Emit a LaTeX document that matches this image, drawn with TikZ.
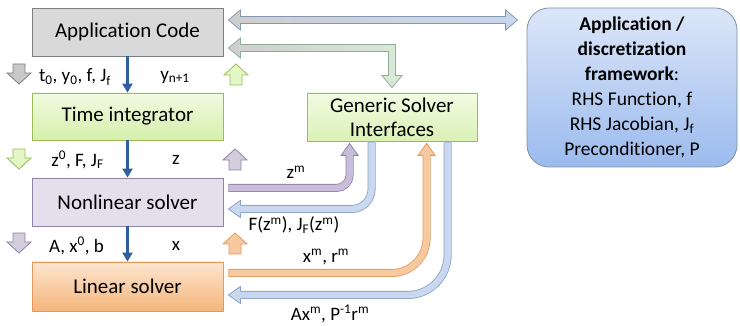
\documentclass[tikz,border=0pt]{standalone}
\usepackage{fontspec}
\setmainfont{Carlito}[Ligatures=NoCommon]
\usetikzlibrary{arrows.meta,calc}
\definecolor{appfill}{HTML}{D9D9D9}
\definecolor{appdraw}{HTML}{7F7F7F}
\definecolor{grtop}{HTML}{F1FBE2}
\definecolor{grbot}{HTML}{D5EFAA}
\definecolor{grdraw}{HTML}{9BBB59}
\definecolor{lvfill}{HTML}{E5DFEC}
\definecolor{lvdraw}{HTML}{8E83A8}
\definecolor{ortop}{HTML}{FDE6CF}
\definecolor{orbot}{HTML}{F4B57C}
\definecolor{ordraw}{HTML}{E39A5C}
\definecolor{fwtop}{HTML}{DCE6F8}
\definecolor{fwbot}{HTML}{9BBBEE}
\definecolor{fwdraw}{HTML}{7F8FA6}
\definecolor{darkblue}{HTML}{2F5F9E}
\definecolor{lvarrow}{HTML}{C8BEDC}
\definecolor{blarrow}{HTML}{C9D8EF}
\definecolor{bldraw}{HTML}{8AA2C8}
\definecolor{orarrow}{HTML}{F7C9A0}
\definecolor{grarrow}{HTML}{E2F6C6}
\definecolor{gyarrow}{HTML}{C8C8C8}
\newcommand\bhead[4]{%
  \begin{scope}[shift={(#1)},rotate=#2]
    \fill[#3] (0,0) -- (-12,8.5) -- (-12,-8.5) -- cycle;
    \draw[#4,line width=0.8pt,line join=miter] (-12,3.6) -- (-12,8.5) -- (0,0) -- (-12,-8.5) -- (-12,-3.6);
  \end{scope}}
\newcommand\bshaft[3]{%
  \draw[line width=8pt,#2] #3;
  \draw[line width=6.4pt,#1,shorten <=0.8pt] #3;}
\newcommand\downarr[3]{%
  \filldraw[fill=#2,draw=#3,line width=0.8pt,line join=miter,shift={(#1)}]
    (-6,0) -- (6,0) -- (6,9) -- (12,9) -- (0,20) -- (-12,9) -- (-6,9) -- cycle;}
\newcommand\uparr[3]{%
  \filldraw[fill=#2,draw=#3,line width=0.8pt,line join=miter,shift={(#1)}]
    (-6,0) -- (6,0) -- (6,-10) -- (12,-10) -- (0,-21) -- (-12,-10) -- (-6,-10) -- cycle;}
\begin{document}
\begin{tikzpicture}[x=1pt,y=-1pt,
  box/.style={draw,line width=0.8pt,inner sep=0pt,minimum width=191pt,
    font=\fontsize{21}{24}\selectfont,align=center},
  lbl/.style={inner sep=0pt,font=\fontsize{19}{21}\selectfont},
  flow/.style={draw=darkblue,line width=2.2pt,-{Triangle[width=10pt,length=9pt]}}]
\useasboundingbox (0,0) rectangle (740,326);

% main boxes
\node[box,fill=appfill,draw=appdraw,minimum height=48pt] (app) at (127.5,32) {Application Code};
\node[box,top color=grtop,bottom color=grbot,draw=grdraw,minimum height=47pt] (ti) at (127.5,116.5) {Time integrator};
\node[box,fill=lvfill,draw=lvdraw,minimum height=48pt] (nl) at (127.5,202) {Nonlinear solver};
\node[box,top color=ortop,bottom color=orbot,draw=ordraw,minimum height=49pt] (ls) at (127.5,286.5) {Linear solver};
\node[box,top color=grtop,bottom color=grbot!80!grtop,draw=grdraw,minimum width=170pt,minimum height=48pt] (gsi) at (392,117) {Generic Solver\\Interfaces};
\node[draw=fwdraw,line width=0.8pt,rounded corners=22pt,top color=fwtop,bottom color=fwbot,
  minimum width=210pt,minimum height=159pt,inner sep=0pt,align=center,
  font=\fontsize{19.5}{25}\selectfont] (fw) at (632,87.5)
  {\textbf{Application /}\\\textbf{discretization}\\\textbf{framework}:\\RHS Function, f\\RHS Jacobian, J\textsubscript{f}\\Preconditioner, P};

% vertical flow arrows
\draw[flow] (app.south) -- (ti.north);
\draw[flow] (ti.south) -- (nl.north);
\draw[flow] (nl.south) -- (ls.north);

% labels between boxes
\node[lbl] (l1) at (75,77) {t\textsubscript{0}, y\textsubscript{0}, f, J\textsubscript{f}};
\node[lbl] (l2) at (175,77) {y\textsubscript{n+1}};
\node[lbl] (l3) at (77.5,160) {z\textsuperscript{0}, F, J\textsubscript{F}};
\node[lbl] (l4) at (176,160) {z};
\node[lbl] (l5) at (76.5,246) {A, x\textsuperscript{0}, b};
\node[lbl] (l6) at (176,246) {x};

% small hollow arrows
\downarr{19,64}{gyarrow}{appdraw}
\uparr{236,85}{grarrow}{grdraw}
\downarr{19,149}{grarrow}{grdraw}
\uparr{235,170}{lvfill!80!lvdraw}{lvdraw}
\downarr{19,233}{lvfill!80!lvdraw}{lvdraw}
\uparr{235,254}{orarrow}{ordraw}

% top double arrow app <-> framework
\coordinate (ta) at ($(app.east)+(5,-12)$);
\coordinate (tb) at ($(fw.west |- ta)+(-9,0)$);
\shadedraw[left color=gyarrow!90!white,right color=blarrow,draw=bldraw!70!appdraw,line width=0.8pt,line join=miter]
  (ta) -- ++(12,-10) -- ++(0,6.5) -- ($(tb)+(-12,-3.5)$) -- ++(0,-6.5) -- (tb)
  -- ++(-12,10) -- ++(0,-6.5) -- ($(ta)+(12,3.5)$) -- ++(0,6.5) -- cycle;

% app <-> generic solver interfaces
\coordinate (ga) at ($(app.east)+(5,16)$);
\coordinate (gb) at ($(gsi.north)+(0,-5)$);
\shadedraw[left color=gyarrow!90!white,right color=grarrow!60!blarrow,draw=bldraw!60!grdraw,line width=0.8pt,line join=miter]
  (ga) -- ++(12,-10) -- ++(0,6.5) -- ($(gb |- ga)+(3.5,-3.5)$) -- ($(gb)+(3.5,-12)$) -- ++(6.5,0)
  -- (gb) -- ++(-10,-12) -- ++(6.5,0) -- ($(gb |- ga)+(-3.5,3.5)$) -- ($(ga)+(12,3.5)$) -- ++(0,6.5) -- cycle;

% nonlinear solver -> GSI (z^m)
\coordinate (zs) at (nl.east |- 0,188);
\coordinate (zt) at ($(gsi.south west)+(43,2)$);
\bshaft{lvarrow}{lvdraw}{[rounded corners=13pt] ($(zs)+(5,0)$) -| ($(zt)+(0,11)$)}
\bhead{zt}{90}{lvarrow}{lvdraw}
\node[lbl] (zm) at (296,172) {z\textsuperscript{m}};

% GSI -> nonlinear solver (F, J_F)
\coordinate (fs) at ($(gsi.south west)+(65,1)$);
\coordinate (ft) at ($(nl.east |- 0,209)+(5,0)$);
\bshaft{blarrow}{bldraw}{[rounded corners=20pt] (fs) |- ($(ft)+(11,0)$)}
\bhead{ft}{180}{blarrow}{bldraw}
\node[lbl] (fj) at (294,225) {F(z\textsuperscript{m}), J\textsubscript{F}(z\textsuperscript{m})};

% linear solver -> GSI (x^m, r^m)
\coordinate (xs) at (ls.east |- 0,273);
\coordinate (xt) at ($(gsi.south west)+(120,2)$);
\bshaft{orarrow}{ordraw}{[rounded corners=35pt] ($(xs)+(5,0)$) -| ($(xt)+(0,11)$)}
\bhead{xt}{90}{orarrow}{ordraw}
\node[lbl] (xr) at (326,257) {x\textsuperscript{m}, r\textsuperscript{m}};

% GSI -> linear solver (Ax^m, P^-1 r^m)
\coordinate (as) at ($(gsi.south west)+(141,1)$);
\coordinate (at) at ($(ls.east |- 0,295)+(5,0)$);
\bshaft{blarrow}{bldraw}{[rounded corners=40pt] (as) |- ($(at)+(11,0)$)}
\bhead{at}{180}{blarrow}{bldraw}
\node[lbl] (ap) at (330,314) {Ax\textsuperscript{m}, P\textsuperscript{-1}r\textsuperscript{m}};
\end{tikzpicture}
\end{document}
